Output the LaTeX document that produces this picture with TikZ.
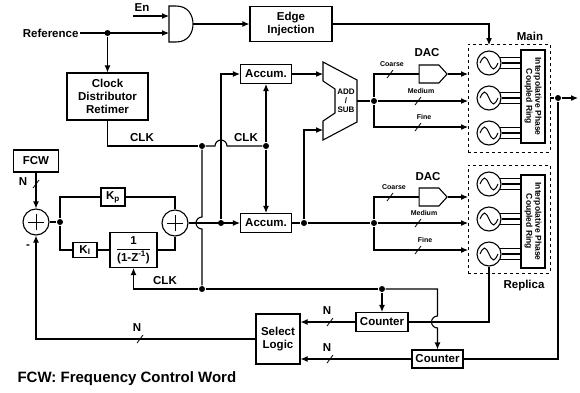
\documentclass[tikz,border=0pt]{standalone}
\usepackage{amsmath}
\usepackage{fontspec}
\setmainfont{Liberation Sans}
\usetikzlibrary{arrows.meta, shapes.symbols}

\tikzset{
    blk/.style={draw, align=center, inner sep=0pt},
    bank/.style={draw, dashed, line width=0.8pt, minimum width=82pt, minimum height=108pt},
    ipcbox/.style={draw, minimum width=24pt, minimum height=93pt},
    ipctext/.style={rotate=-90, align=center, inner sep=0pt, font=\bfseries\fontsize{8.5}{9}\selectfont},
    dac/.style={draw, signal, signal to=east, signal pointer angle=95,
        minimum width=28pt, minimum height=18pt, inner sep=0pt},
    junc/.style={circle, fill, inner sep=0pt, minimum size=6pt},
    sumnode/.style={draw, circle, minimum size=26pt, inner sep=0pt,
        path picture={\draw[line width=0.8pt]
            ([xshift=-8pt]path picture bounding box.center) -- ([xshift=8pt]path picture bounding box.center)
            ([yshift=-8pt]path picture bounding box.center) -- ([yshift=8pt]path picture bounding box.center);}},
    osc/.style={draw, circle, minimum size=24pt, inner sep=0pt,
        path picture={\draw[line width=1pt]
            ([xshift=-9pt]path picture bounding box.center)
            sin ([shift={(-4.5pt,6pt)}]path picture bounding box.center)
            cos (path picture bounding box.center)
            sin ([shift={(4.5pt,-6pt)}]path picture bounding box.center)
            cos ([xshift=9pt]path picture bounding box.center);}},
    tinylbl/.style={inner sep=0pt, font=\bfseries\fontsize{7}{8}\selectfont},
    busslash/.pic={\draw[line width=0.8pt] (-3,4) -- (3,-4);},
}

\begin{document}
\begin{tikzpicture}[x=1pt, y=-1pt, >={Latex[length=7pt, width=6pt]}, line width=1.1pt,
        font=\bfseries\fontsize{11.5}{13}\selectfont]
    \useasboundingbox (0,0) rectangle (580,392);

    % reference, enable gate, edge injection
    \node[anchor=east, inner sep=1pt] (ref) at (80,33) {Reference};
    \node (en) at (142,8) {En};
    \coordinate (enin) at (133,16);
    \coordinate (gin1) at (169,16);
    \coordinate (gin2) at (169,33);
    \coordinate (gout) at (193,24);
    \draw (169,6) -- (176,6) .. controls (188,6) and (193,15) .. (gout)
                  .. controls (193,33) and (188,42) .. (176,42) -- (169,42) -- cycle;
    \node[junc] (refdot) at (107.5,33) {};
    \draw[->] (enin) -- (gin1);
    \draw[->] (ref) -- (gin2);
    \node[blk, minimum width=82pt, minimum height=35pt] (edge) at (291,24) {Edge\\Injection};
    \draw[->] (gout) -- (edge);
    \node[blk, minimum width=81pt, minimum height=47pt] (cdr) at (107.5,96.5) {Clock\\Distributor\\Retimer};
    \draw[->] (refdot) -- (cdr);

    % main ring bank
    \node[bank] (mainbox) at (509,98) {};
    \node[ipcbox] (mipc) at (533,96.5) {};
    \node[ipctext] at (mipc) {Interpolative Phase\\Coupled Ring};
    \node[osc] (m1) at (489,63) {};
    \node[osc] (m2) at (489,98) {};
    \node[osc] (m3) at (489,133) {};
    \draw (m1.25) -- (m1.25 -| mipc.west) (m1.0) -- (m1.0 -| mipc.west) (m1.-25) -- (m1.-25 -| mipc.west);
    \draw (m2.25) -- (m2.25 -| mipc.west) (m2.0) -- (m2.0 -| mipc.west) (m2.-25) -- (m2.-25 -| mipc.west);
    \draw (m3.25) -- (m3.25 -| mipc.west) (m3.0) -- (m3.0 -| mipc.west) (m3.-25) -- (m3.-25 -| mipc.west);
    \node (mainlbl) at (530,36) {Main};
    \coordinate (inj) at (489,45);
    \draw[->] (edge) -| (inj);

    % replica ring bank
    \node[bank] (repbox) at (509,219) {};
    \node[ipcbox] (ripc) at (533,221.5) {};
    \node[ipctext] at (ripc) {Interpolative Phase\\Coupled Ring};
    \node[osc] (r1) at (489,184) {};
    \node[osc] (r2) at (489,219) {};
    \node[osc] (r3) at (489,254) {};
    \draw (r1.25) -- (r1.25 -| ripc.west) (r1.0) -- (r1.0 -| ripc.west) (r1.-25) -- (r1.-25 -| ripc.west);
    \draw (r2.25) -- (r2.25 -| ripc.west) (r2.0) -- (r2.0 -| ripc.west) (r2.-25) -- (r2.-25 -| ripc.west);
    \draw (r3.25) -- (r3.25 -| ripc.west) (r3.0) -- (r3.0 -| ripc.west) (r3.-25) -- (r3.-25 -| ripc.west);
    \node (replbl) at (524,286) {Replica};

    % output
    \node[junc] (odot) at (558,98) {};
    \coordinate (out) at (578,98);
    \draw (mainbox.east) -- (odot);
    \draw[->] (odot) -- (out);

    % accumulators and add / sub
    \node[blk, minimum width=51pt, minimum height=19pt] (accu) at (266,74) {Accum.};
    \node[blk, minimum width=51pt, minimum height=19pt] (accl) at (266,223) {Accum.};
    \draw (323,62) -- (357,80) -- (357,122) -- (323,140) -- (323,121)
          -- (335,113) -- (335,89) -- (323,81) -- cycle;
    \node[align=center, inner sep=0pt, font=\bfseries\fontsize{8}{9}\selectfont] (addsub) at (346,101) {ADD\\/\\SUB};
    \coordinate (addin1) at (323,74);
    \coordinate (addin2) at (323,130);
    \coordinate (addout) at (357,101);
    \draw[->] (accu) -- (addin1);
    \node[junc] (ldot) at (304,223) {};
    \draw (accl) -- (ldot);
    \draw[->] (ldot) |- (addin2);

    % DAC branches
    \node[junc] (bm) at (374,101) {};
    \node[junc] (br) at (374,223) {};
    \draw (addout) -- (bm);
    \draw (ldot) -- (br);
    \node[dac] (dacm) at (429,74) {};
    \node[dac] (dacr) at (429,197) {};
    \coordinate (coarm) at (468,74);
    \coordinate (medm)  at (468,101);
    \coordinate (finem) at (468,127);
    \coordinate (coarr) at (468,197);
    \coordinate (medr)  at (468,223);
    \coordinate (finer) at (468,250);
    \draw (bm) |- (dacm);
    \draw[->] (dacm) -- (coarm);
    \draw[->] (bm) -- (medm);
    \draw[->] (bm) |- (finem);
    \draw (br) |- (dacr);
    \draw[->] (dacr) -- (coarr);
    \draw[->] (br) -- (medr);
    \draw[->] (br) |- (finer);

    \node at (427,53) {DAC};
    \node[tinylbl] at (392,64) {Coarse};
    \node[tinylbl] at (421,91) {Medium};
    \node[tinylbl] at (424,117) {Fine};
    \pic at (390,74) {busslash};
    \pic at (418,101) {busslash};
    \pic at (418,127) {busslash};
    \node at (428,177) {DAC};
    \node[tinylbl] at (394,187) {Coarse};
    \node[tinylbl] at (424,213) {Medium};
    \node[tinylbl] at (425,240) {Fine};
    \pic at (390,197) {busslash};
    \pic at (418,223) {busslash};
    \pic at (418,250) {busslash};

    % loop filter
    \node[blk, minimum width=45pt, minimum height=22pt] (fcw) at (36,161) {FCW};
    \node[sumnode] (s1) at (36,222) {};
    \draw[->] (fcw) -- (s1);
    \pic at (36,184) {busslash};
    \node at (23,182) {N};
    \node[junc] (sdot) at (60,222) {};
    \draw (s1) -- (sdot);
    \node[blk, minimum width=24pt, minimum height=18pt] (kp) at (113,197) {K\textsubscript{p}};
    \node[blk, minimum width=24pt, minimum height=15pt] (ki) at (85,250) {K\textsubscript{I}};
    \node[blk, minimum width=47pt, minimum height=35pt] (integ) at (133.5,250)
        {$\dfrac{\text{1}}{\text{(1-Z\textsuperscript{-1})}}$};
    \node[sumnode] (s2) at (175,223) {};
    \draw (sdot) |- (kp) (kp) -| (s2);
    \draw (sdot) |- (ki) (ki) -- (integ) (integ) -| (s2);
    \node at (28,247) {-};

    \node[junc] (adot) at (221,223) {};
    \draw[->] (s2) -- (accl);
    \draw[->] (adot) |- (accu);

    % clock distribution
    \node[junc] (kdot) at (202,146) {};
    \node[junc] (cdot) at (266,146) {};
    \draw (cdr) |- (kdot);
    \draw (kdot) -- (215,146) arc[start angle=180, end angle=0, radius=6pt] -- (cdot);
    \draw[->] (cdot) -- (accu);
    \draw[->] (cdot) -- (accl);
    \node at (142,138) {CLK};
    \node at (246,138) {CLK};

    \node[junc] (vdot) at (202,289) {};
    \draw (kdot) -- (202,217) arc[start angle=90, end angle=270, radius=6pt] -- (vdot);
    \draw[->] (vdot) -| (integ);
    \node at (165,281) {CLK};

    % counters and select logic
    \node[junc] (tdot) at (382,289) {};
    \node[blk, minimum width=52pt, minimum height=19pt] (cnt1) at (382,322) {Counter};
    \node[blk, minimum width=51pt, minimum height=18pt] (cnt2) at (437.5,359) {Counter};
    \draw (vdot) -- (tdot);
    \draw[->] (tdot) -- (cnt1);
    \draw[->] (tdot) -- (437.5,289) -- (437.5,316) arc[start angle=90, end angle=270, radius=6pt] -- (cnt2);
    \draw (r3) |- (cnt1);
    \draw (odot) |- (cnt2);

    \node[blk, minimum width=44pt, minimum height=50pt] (sel) at (278,339) {Select\\Logic};
    \draw[->] (cnt1) -- (cnt1 -| sel.east);
    \draw[->] (cnt2) -- (cnt2 -| sel.east);
    \pic at (330,322) {busslash};
    \node at (327,311) {N};
    \pic at (330,359) {busslash};
    \node at (327,348) {N};
    \draw[->] (sel) -| (s1);
    \pic at (140,339) {busslash};
    \node at (137,328) {N};

    \node[anchor=west, inner sep=0pt, font=\bfseries\fontsize{15}{16}\selectfont] (legend) at (17,379)
        {FCW: Frequency Control Word};
\end{tikzpicture}
\end{document}
